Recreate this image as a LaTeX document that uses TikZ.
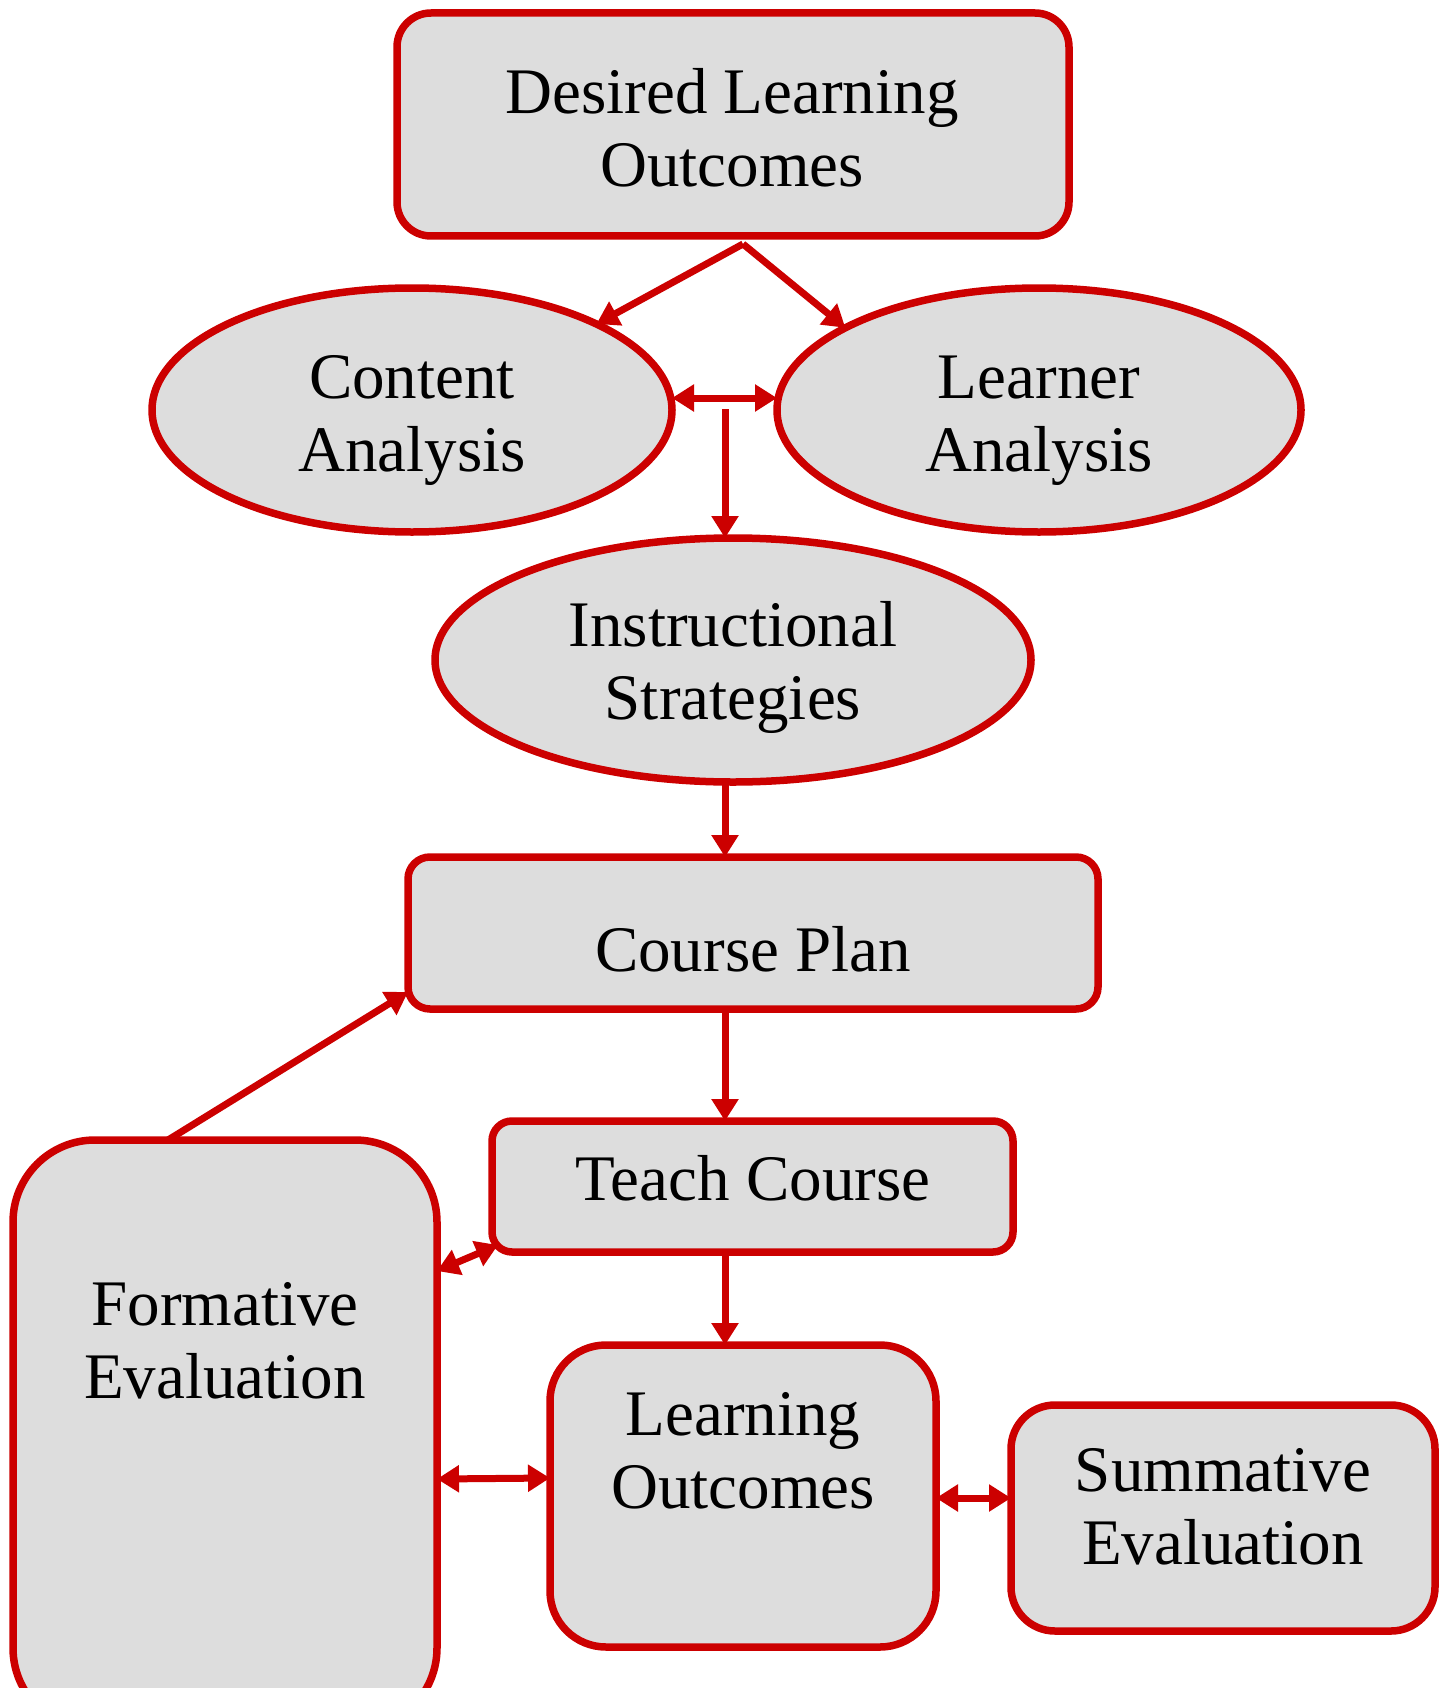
\documentclass[tikz,border=0pt]{standalone}
\usepackage{fontspec}
\setmainfont{Liberation Serif}
\usetikzlibrary{shapes.geometric,arrows.meta}
\definecolor{rd}{HTML}{CC0000}
\definecolor{gf}{HTML}{DDDDDD}
\newcommand\twolines[2]{\vtop{\halign{\hfil##\hfil\cr#1\cr#2\cr}}}
\begin{document}
\begin{tikzpicture}[x=1pt,y=-1pt,
 box/.style={draw=rd,fill=gf,line width=7.5pt,inner sep=0pt,outer sep=0pt},
 ell/.style={ellipse,draw=rd,fill=gf,line width=7.5pt,inner sep=0pt,outer sep=0pt},
 lbl/.style={anchor=base,font=\fontsize{65}{73}\selectfont,inner sep=0pt},
 arr/.style={draw=rd,line width=7pt,-{Triangle[length=22pt,width=26pt]}},
 darr/.style={draw=rd,line width=7pt,{Triangle[length=22pt,width=26pt]}-{Triangle[length=22pt,width=26pt]}}]
\clip (0,0) rectangle (1446,1688);
\fill[white] (0,0) rectangle (1446,1688);
% shapes
\node[box,rounded corners=34pt,minimum width=672pt,minimum height=223pt] (dlo) at (733,124.5) {};
\node[ell,minimum width=520pt,minimum height=244pt] (ca) at (412,410) {};
\node[ell,minimum width=524pt,minimum height=244pt] (la) at (1039,410) {};
\node[ell,minimum width=596pt,minimum height=244pt] (is) at (733,660) {};
\node[box,rounded corners=22pt,minimum width=690pt,minimum height=152pt] (cp) at (753,933) {};
\node[box,rounded corners=20pt,minimum width=521pt,minimum height=131pt] (tc) at (752.5,1186.5) {};
\node[box,rounded corners=82pt,minimum width=424pt,minimum height=590pt] (fe) at (225,1435) {};
\node[box,rounded corners=56pt,minimum width=386pt,minimum height=302pt] (lo) at (743,1496) {};
\node[box,rounded corners=44pt,minimum width=424pt,minimum height=226pt] (su) at (1223,1518) {};
% labels
\node[lbl] (t1) at (732,114) {\twolines{Desired Learning}{Outcomes}};
\node[lbl] (t2) at (412,398) {\twolines{Content}{Analysis}};
\node[lbl] (t3) at (1039,398) {\twolines{Learner}{Analysis}};
\node[lbl] (t4) at (733,646) {\twolines{Instructional}{Strategies}};
\node[lbl] (t5) at (753,971) {Course Plan};
\node[lbl] (t6) at (753,1200) {Teach Course};
\node[lbl] (t7) at (225,1325) {\twolines{Formative}{Evaluation}};
\node[lbl] (t8) at (743,1435) {\twolines{Learning}{Outcomes}};
\node[lbl] (t9) at (1223,1491) {\twolines{Summative}{Evaluation}};
% connectors
\coordinate (ax) at (725,0);
\coordinate (split) at (743,244);
\coordinate (jt) at (725,409);
\draw[arr] (split) -- (ca.25);
\draw[arr] (split) -- (la.157);
\draw[darr] ([yshift=12pt]ca.east) -- ([yshift=12pt]la.west);
\draw[arr] (jt) -- (is.north -| ax);
\draw[arr] (is.south -| ax) -- (cp.north -| ax);
\draw[arr] (cp.south -| ax) -- (tc.north -| ax);
\draw[arr] (tc.south -| ax) -- (lo.north -| ax);
\draw[arr] ([xshift=-57pt]fe.north) -- ([yshift=17pt]cp.south west);
\draw[darr] (fe.east |- 0,1271) -- ([xshift=6pt,yshift=7pt]tc.south west);
\draw[darr] (fe.east |- 0,1479) -- (lo.west |- 0,1478);
\draw[darr] (lo.east |- 0,1498) -- (su.west |- 0,1498);
\end{tikzpicture}
\end{document}
